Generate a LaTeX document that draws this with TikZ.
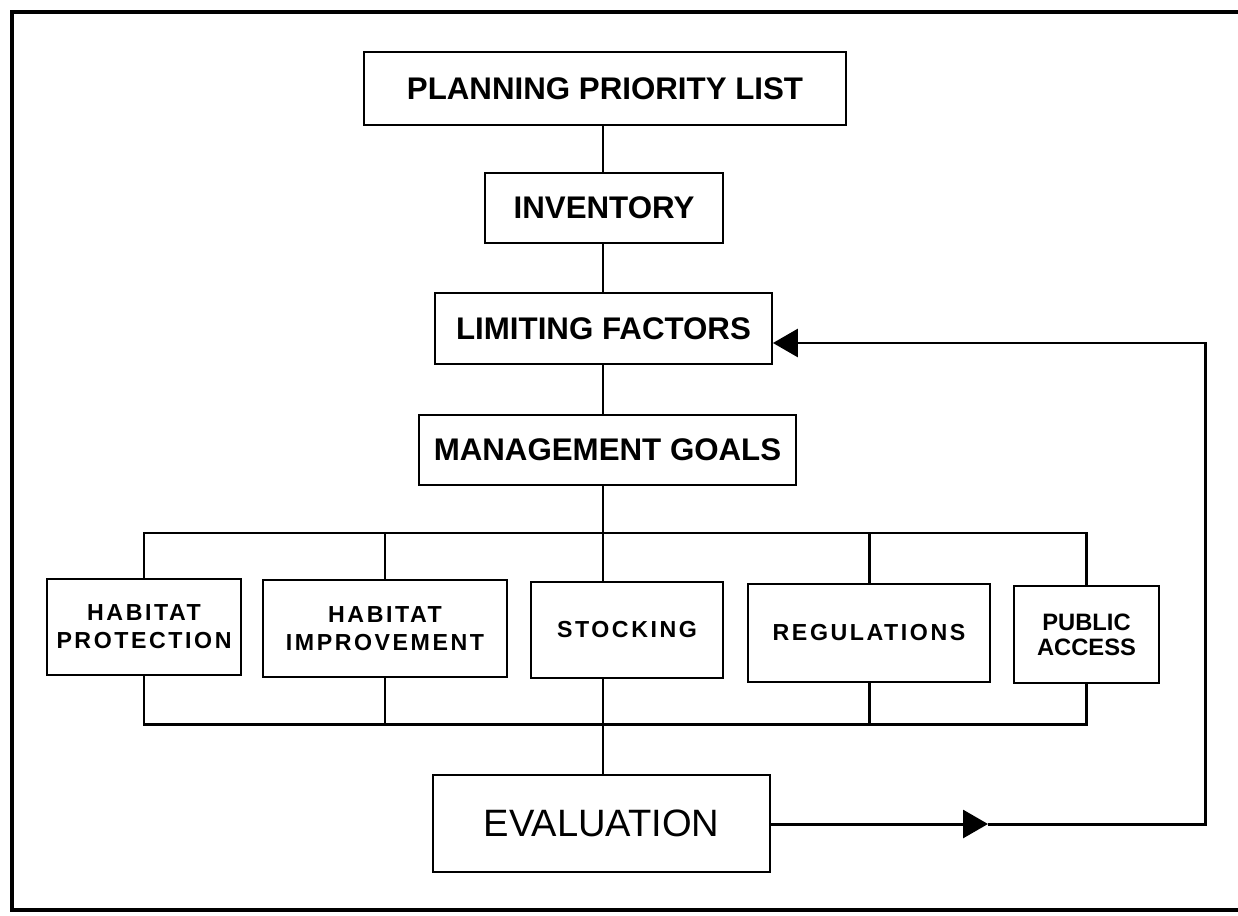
\documentclass[tikz,border=0pt]{standalone}
\usepackage{fontspec}
\setmainfont{Liberation Sans}
\usetikzlibrary{arrows.meta}
\tikzset{
  bigbox/.style={draw, line width=1.1pt, inner sep=0pt,
    font=\fontsize{17.8}{20}\selectfont\bfseries},
  smallbox/.style={draw, line width=1.1pt, inner sep=0pt, align=center,
    font=\fontsize{13.2}{16}\selectfont\bfseries\addfontfeature{LetterSpace=11}},
  link/.style={line width=1.7pt},
  fbtip/.style={-{Triangle[length=0.5cm,width=0.56cm]}}
}
\begin{document}
\begin{tikzpicture}[x=0.02cm, y=-0.02cm]
    \useasboundingbox (0,0) rectangle (1238,916);
    % frame
    \draw[line width=2.2pt] (1250,12) -- (12,12) -- (12,910) -- (1250,910);
    % upper chain
    \node[bigbox, minimum width=9.64cm, minimum height=1.46cm] (plan) at (605,88.5) {PLANNING PRIORITY LIST};
    \node[bigbox, minimum width=4.76cm, minimum height=1.40cm] (inv) at (604,208) {INVENTORY};
    \node[bigbox, minimum width=6.74cm, minimum height=1.42cm] (limit) at (603.5,328.5) {LIMITING FACTORS};
    \node[bigbox, minimum width=7.54cm, minimum height=1.40cm] (goals) at (607.5,450) {MANAGEMENT GOALS};
    \coordinate (busT) at (603,533);
    \coordinate (busB) at (603,724);
    \draw[link] (plan.south -| busT) -- (inv.north -| busT);
    \draw[link] (inv.south -| busT) -- (limit.north -| busT);
    \draw[link] (limit.south -| busT) -- (goals.north -| busT);
    % management actions
    \node[smallbox, minimum width=3.88cm, minimum height=1.92cm] (hprot) at (144,627) {HABITAT\\PROTECTION};
    \node[smallbox, minimum width=4.88cm, minimum height=1.94cm] (himp) at (385,628.5) {HABITAT\\IMPROVEMENT};
    \node[smallbox, minimum width=3.84cm, minimum height=1.92cm] (stock) at (627,630) {STOCKING};
    \node[smallbox, minimum width=4.84cm, minimum height=1.96cm] (regs) at (869,633) {REGULATIONS};
    \node[smallbox, minimum width=2.90cm, minimum height=1.94cm,
      font=\fontsize{13.5}{14.2}\selectfont\bfseries] (pub) at (1086.5,634.5) {PUBLIC\\ACCESS};
    \draw[link] (goals.south -| busT) -- (stock.north -| busT);
    \draw[link] (hprot.north) |- (busT) -| (pub.north);
    \draw[link] (himp.north) -- (himp.north |- busT);
    \draw[link] (regs.north) -- (regs.north |- busT);
    \draw[link] (hprot.south) |- (busB) -| (pub.south);
    \draw[link] (himp.south) -- (himp.south |- busB);
    \draw[link] (regs.south) -- (regs.south |- busB);
    \draw[link] (stock.south -| busB) -- (busB);
    % evaluation and feedback
    \node[draw, line width=1.1pt, inner sep=0pt, minimum width=6.74cm, minimum height=1.94cm,
      font=\fontsize{21.7}{24}\selectfont] (eval) at (601.5,823.5) {EVALUATION};
    \draw[link] (busB) -- (eval.north -| busB);
    \coordinate (fbmid) at (988,824);
    \coordinate (fbbot) at (1205,824);
    \coordinate (fbtop) at (1205,343);
    \draw[link, fbtip] (eval.east |- fbmid) -- (fbmid);
    \draw[link, fbtip] (fbmid) -- (fbbot) -- (fbtop) -- (limit.east |- fbtop);
\end{tikzpicture}
\end{document}
